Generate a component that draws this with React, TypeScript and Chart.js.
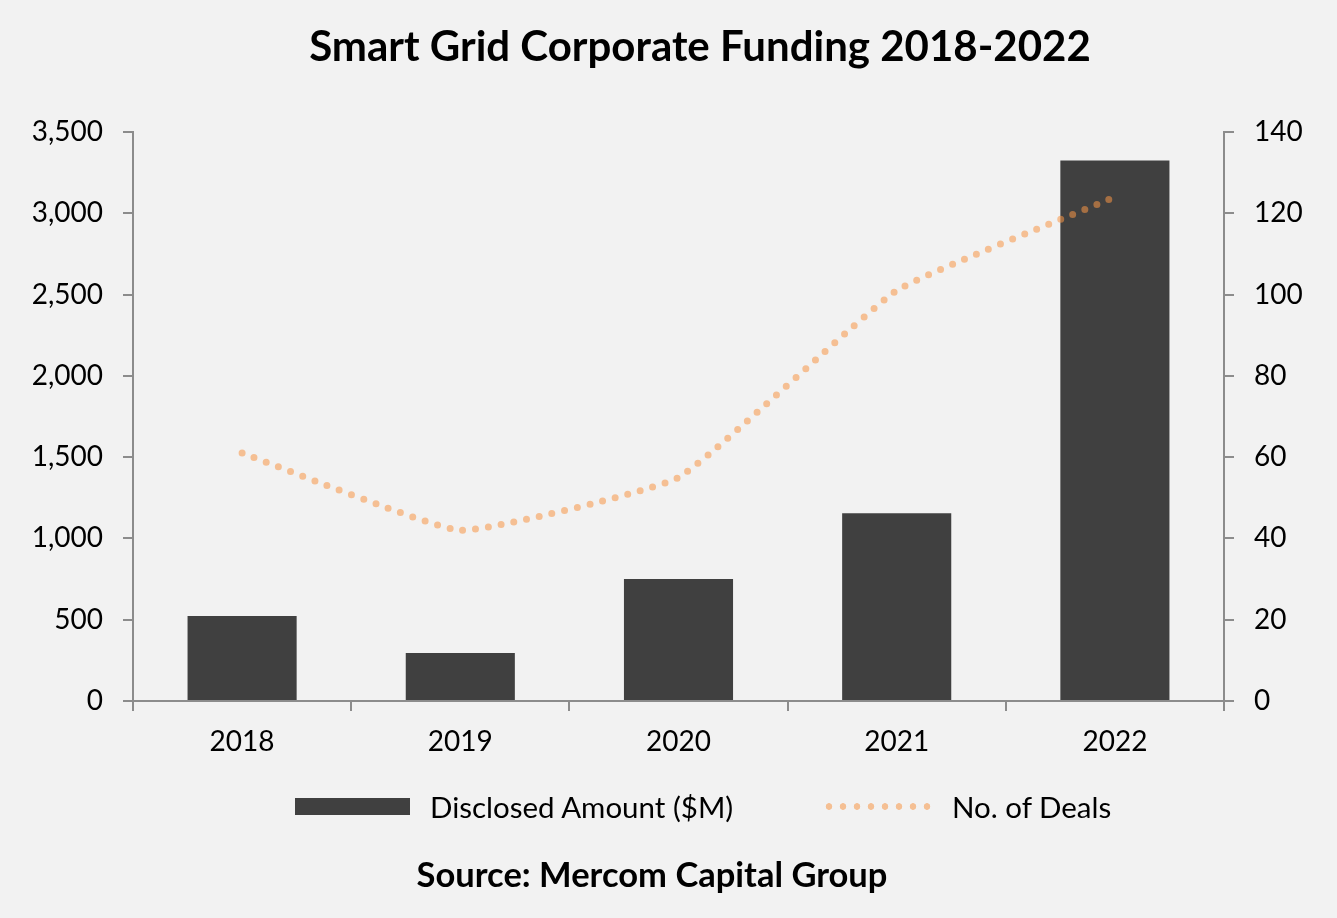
import { useEffect, useRef } from "react";
import Chart from "chart.js/auto";

const years = ["2018", "2019", "2020", "2021", "2022"];
const disclosedAmount = [523, 295, 750, 1155, 3325];
const numberOfDeals = [61, 42, 55, 101, 124];

const amountMax = 3500;
const amountStep = 500;
const dealsMax = 140;
const dealsStep = 20;

const barColor = "#404040";
const lineColor = "rgba(247, 150, 70, 0.55)";
const axisColor = "#8c8c8c";
const fontFamily = "Lato, 'Open Sans', sans-serif";

export default function App() {
  const chartRef = useRef<HTMLCanvasElement>(null);
  const chartInstance = useRef<Chart | null>(null);

  useEffect(() => {
    const ctx = chartRef.current?.getContext("2d");
    if (!ctx) return;

    if (chartInstance.current) {
      chartInstance.current.destroy();
    }

    chartInstance.current = new Chart(ctx, {
      type: "bar",
      data: {
        labels: years,
        datasets: [
          {
            type: "line",
            label: "No. of Deals",
            data: numberOfDeals,
            yAxisID: "y1",
            borderColor: lineColor,
            borderWidth: 7,
            borderDash: [0, 13],
            borderCapStyle: "round",
            pointRadius: 0,
            tension: 0.12,
            fill: false,
            order: 0,
          },
          {
            type: "bar",
            label: "Disclosed Amount ($M)",
            data: disclosedAmount,
            yAxisID: "y",
            backgroundColor: barColor,
            barPercentage: 0.5,
            categoryPercentage: 1,
            order: 1,
          },
        ],
      },
      options: {
        responsive: false,
        animation: false,
        layout: { padding: { top: 132, left: 0, right: 0, bottom: 0 } },
        font: { family: fontFamily },
        plugins: {
          legend: { display: false },
          tooltip: { enabled: false },
        },
        scales: {
          x: {
            offset: true,
            grid: {
              offset: true,
              drawOnChartArea: false,
              tickLength: 10,
              color: axisColor,
              lineWidth: 2,
            },
            border: { color: axisColor, width: 2 },
            ticks: {
              color: "#000",
              padding: 14,
              font: { family: fontFamily, size: 28 },
            },
            afterFit: (scale) => {
              scale.height = 918 - 701;
            },
          },
          y: {
            position: "left",
            min: 0,
            max: amountMax,
            grid: {
              drawOnChartArea: false,
              tickLength: 10,
              color: axisColor,
              lineWidth: 2,
            },
            border: { color: axisColor, width: 2 },
            ticks: {
              stepSize: amountStep,
              color: "#000",
              padding: 20,
              font: { family: fontFamily, size: 28 },
              callback: (v) => Number(v).toLocaleString("en-US"),
            },
            afterFit: (scale) => {
              scale.width = 133;
            },
          },
          y1: {
            position: "right",
            min: 0,
            max: dealsMax,
            grid: {
              drawOnChartArea: false,
              tickLength: 10,
              color: axisColor,
              lineWidth: 2,
            },
            border: { color: axisColor, width: 2 },
            ticks: {
              stepSize: dealsStep,
              color: "#000",
              padding: 20,
              font: { family: fontFamily, size: 28 },
            },
            afterFit: (scale) => {
              scale.width = 1337 - 1224;
            },
          },
        },
      },
    });

    return () => {
      chartInstance.current?.destroy();
    };
  }, []);

  const text = { position: "absolute" as const, color: "#000", fontFamily, whiteSpace: "nowrap" as const };

  return (
    <div style={{ position: "fixed", left: 0, top: 0, width: 1337, height: 918, background: "#f2f2f2", overflow: "hidden" }}>
      <canvas ref={chartRef} width={1337} height={918} style={{ position: "absolute", left: 0, top: 0 }} />
      <div style={{ ...text, left: 700, top: 45, transform: "translate(-50%, -50%)", fontSize: 42, fontWeight: 700 }}>
        Smart Grid Corporate Funding 2018-2022
      </div>
      {/* legend */}
      <div style={{ position: "absolute", left: 295, top: 798, width: 115, height: 17, background: barColor }} />
      <div style={{ ...text, left: 430, top: 806, transform: "translateY(-50%)", fontSize: 29.5 }}>Disclosed Amount ($M)</div>
      <div
        style={{
          position: "absolute",
          left: 822,
          top: 803,
          width: 113,
          height: 7,
          backgroundImage: `radial-gradient(circle, ${lineColor} 3px, transparent 3.6px)`,
          backgroundSize: "14px 7px",
          backgroundRepeat: "repeat-x",
        }}
      />
      <div style={{ ...text, left: 952, top: 806, transform: "translateY(-50%)", fontSize: 29.5 }}>No. of Deals</div>
      <div style={{ ...text, left: 652, top: 873, transform: "translate(-50%, -50%)", fontSize: 34.5, fontWeight: 700 }}>
        Source: Mercom Capital Group
      </div>
    </div>
  );
}
